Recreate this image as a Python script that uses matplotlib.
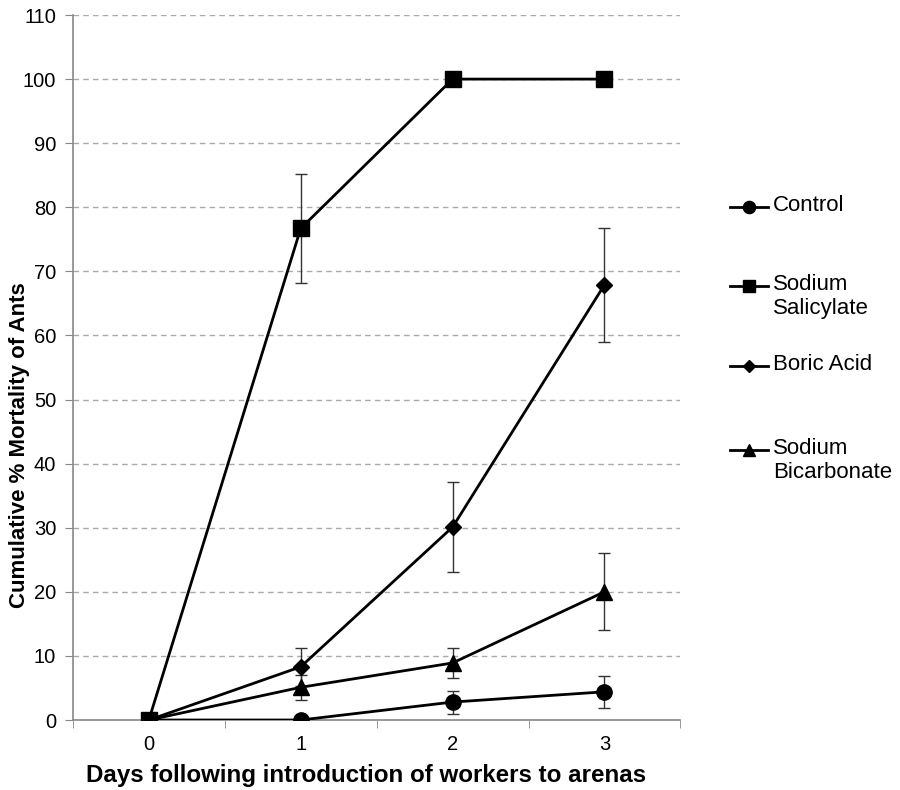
import numpy as np
import matplotlib
matplotlib.use('Agg')
import matplotlib.pyplot as plt
from matplotlib.lines import Line2D

plt.rcParams['font.family'] = ['Liberation Sans', 'DejaVu Sans']

# cumulative % mortality per day, mean and error
days = [0, 1, 2, 3]
control = [0, 0, 2.8, 4.4]
control_err = [0, 0, 1.8, 2.5]
salicylate = [0, 76.7, 100, 100]
salicylate_err = [0, 8.5, 0, 0]
boric = [0, 8.3, 30.1, 67.9]
boric_err = [0, 3.0, 7.0, 8.9]
bicarb = [0, 5.1, 8.9, 20.0]
bicarb_err = [0, 2.0, 2.4, 6.0]

series = [
    ('Control', control, control_err, 'o', 11),
    ('Sodium\nSalicylate', salicylate, salicylate_err, 's', 11.5),
    ('Boric Acid', boric, boric_err, 'D', 8),
    ('Sodium\nBicarbonate', bicarb, bicarb_err, '^', 11.5),
]

fig = plt.figure(figsize=(9, 7.9), dpi=100)
ax = fig.add_axes([0.081, 0.0886, 0.675, 0.8924])

for label, y, err, mk, ms in series:
    ax.errorbar(days, y, yerr=err, fmt='none', ecolor='#333333', elinewidth=1,
                capsize=4, capthick=1, zorder=2)
    ax.plot(days, y, color='black', lw=2, marker=mk, ms=ms, zorder=3)

ax.set_xlim(-0.5, 3.5)
ax.set_ylim(0, 110)
ax.set_yticks(np.arange(0, 111, 10))
ax.set_xticks(days)
ax.set_xticks(np.arange(-0.5, 3.6, 1), minor=True)
ax.tick_params(axis='x', which='major', length=0, labelsize=14.5, pad=11)
ax.tick_params(axis='x', which='minor', length=6, color='#888888', direction='out')
ax.tick_params(axis='y', length=6, color='#888888', labelsize=14.5, pad=6)
ax.yaxis.grid(True, linestyle=(0, (4, 3)), color='#aaaaaa', lw=1)
ax.set_axisbelow(True)
for s in ['top', 'right']:
    ax.spines[s].set_visible(False)
for s in ['left', 'bottom']:
    ax.spines[s].set_color('#888888')
    ax.spines[s].set_linewidth(1.2)

ax.set_xlabel('Days following introduction of workers to arenas',
              fontsize=17.4, fontweight='bold')
ax.xaxis.set_label_coords(0.483, -0.062)
ax.set_ylabel('Cumulative % Mortality of Ants', fontsize=16, fontweight='bold')
ax.yaxis.set_label_coords(-0.071, 0.39)

# legend entries drawn by hand so the key sits on the first text line
leg_y = [0.738, 0.638, 0.537, 0.430]
for (label, y, err, mk, ms), ly in zip(series, leg_y):
    fig.add_artist(Line2D([0.811, 0.853], [ly, ly], color='black', lw=2,
                          transform=fig.transFigure))
    fig.add_artist(Line2D([0.832], [ly], color='black', lw=0, marker=mk,
                          ms=ms * 0.8, transform=fig.transFigure))
    fig.text(0.859, ly + 0.0155, label, fontsize=16, va='top', ha='left',
             transform=fig.transFigure, linespacing=1.2)

fig.savefig('out.png', dpi=100)
